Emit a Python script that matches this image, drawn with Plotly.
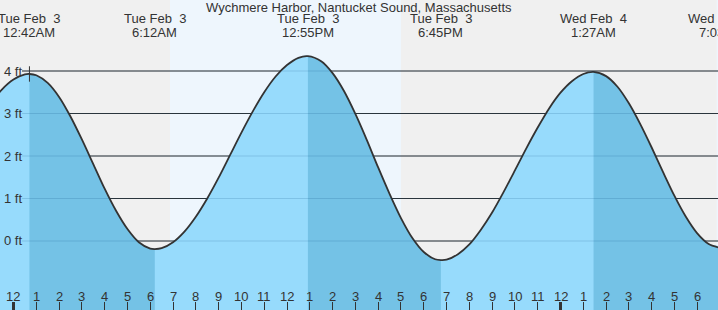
import plotly.graph_objects as go

# ---- data (hours since Tue Feb 3 00:00, feet) ----
times = [-1.0, -0.5, 0.0, 0.5, 0.7, 1.0, 1.5, 2.0, 2.5, 3.0, 3.5, 4.0, 4.5, 5.0, 5.5, 6.0, 6.2,
         6.5, 7.0, 7.5, 8.0, 8.5, 9.0, 9.5, 10.0, 10.5, 11.0, 11.5, 12.0, 12.5, 12.917,
         13.5, 14.0, 14.5, 15.0, 15.5, 16.0, 16.5, 17.0, 17.5, 18.0, 18.5, 18.75,
         19.0, 19.5, 20.0, 20.5, 21.0, 21.5, 22.0, 22.5, 23.0, 23.5, 24.0, 24.5, 25.0, 25.45,
         26.0, 26.5, 27.0, 27.5, 28.0, 28.5, 29.0, 29.5, 30.0, 30.5, 31.05]
heights = [3.23, 3.57, 3.80, 3.92, 3.93, 3.90, 3.72, 3.39, 2.93, 2.39, 1.81, 1.23, 0.71, 0.28, -0.03, -0.18, -0.19,
           -0.17, -0.03, 0.22, 0.57, 1.00, 1.49, 2.02, 2.55, 3.05, 3.50, 3.87, 4.14, 4.31, 4.35,
           4.23, 3.95, 3.53, 2.99, 2.38, 1.73, 1.11, 0.54, 0.07, -0.26, -0.43, -0.45,
           -0.44, -0.31, -0.08, 0.26, 0.67, 1.15, 1.66, 2.18, 2.67, 3.12, 3.49, 3.76, 3.93, 3.98,
           3.88, 3.63, 3.24, 2.75, 2.20, 1.62, 1.06, 0.57, 0.18, -0.07, -0.17]

# high / low events
event_times = [0.7, 6.2, 12.917, 18.75, 25.45, 31.05]
event_days = ["Tue Feb  3", "Tue Feb  3", "Tue Feb  3", "Tue Feb  3", "Wed Feb  4", "Wed Feb  4"]
event_clock = ["12:42AM", "6:12AM", "12:55PM", "6:45PM", "1:27AM", "7:03AM"]

# daylight (sunrise, sunset)
daylight = [(6.867, 17.0), (30.85, 41.0)]

# axes
hour_ticks = list(range(0, 31))
hour_labels = ["12", "1", "2", "3", "4", "5", "6", "7", "8", "9", "10", "11",
               "12", "1", "2", "3", "4", "5", "6", "7", "8", "9", "10", "11",
               "12", "1", "2", "3", "4", "5", "6"]
midnights = [0, 24]
ft_ticks = [0, 1, 2, 3, 4]
ft_labels = ["0 ft", "1 ft", "2 ft", "3 ft", "4 ft"]

title = "Wychmere Harbor, Nantucket Sound, Massachusetts"

# ---- styling ----
W, H = 718, 310
XR = [-0.592, 30.91]
YR = [-1.624, 5.671]
BG = "#f0f0f0"
DAY = "#eef6fd"
LIGHT = "#97dbfc"
DARK = "#74c2e6"
INK = "#333333"
FONT = "Liberation Sans"

fig = go.Figure()

# fill segments between successive events
bounds = [times[0]] + event_times
for i in range(len(bounds) - 1):
    a, b = bounds[i], bounds[i + 1]
    seg = [(t, h) for t, h in zip(times, heights) if a <= t <= b]
    xs = [p[0] for p in seg]
    ys = [p[1] for p in seg]
    xs = xs + [xs[-1], xs[0]]
    ys = ys + [YR[0] - 2, YR[0] - 2]
    color = LIGHT if i % 2 == 0 else DARK
    fig.add_trace(go.Scatter(x=xs, y=ys, fill="toself", fillcolor=color, mode="lines",
                             line=dict(width=0, color=color, shape="spline", smoothing=0.8),
                             hoverinfo="skip", showlegend=False))

# tide curve
fig.add_trace(go.Scatter(x=times, y=heights, mode="lines",
                         line=dict(color=INK, width=1.8, shape="spline", smoothing=0.8),
                         hoverinfo="skip", showlegend=False))

# marker at first high
fig.add_trace(go.Scatter(x=[event_times[0]], y=[heights[times.index(event_times[0])]], mode="markers",
                         marker=dict(symbol="line-ns", size=11, line=dict(color=INK, width=1)),
                         hoverinfo="skip", showlegend=False))

shapes = []
for sr, ss in daylight:
    shapes.append(dict(type="rect", xref="x", yref="paper", x0=sr, x1=ss, y0=0, y1=1,
                       fillcolor=DAY, line=dict(width=0), layer="below"))
x_start = 22 / W
for v in ft_ticks:
    shapes.append(dict(type="line", xref="paper", yref="y", x0=x_start, x1=1, y0=v, y1=v,
                       line=dict(color=INK, width=1.2), layer="below"))
for v in ft_ticks:
    shapes.append(dict(type="line", xref="paper", yref="y", x0=x_start, x1=1, y0=v, y1=v,
                       line=dict(color="rgba(0,70,120,0.16)", width=1.2), layer="above"))
for m in midnights:
    shapes.append(dict(type="line", xref="x", yref="paper", x0=m, x1=m, y0=0, y1=8 / H,
                       line=dict(color=INK, width=3), layer="above"))

ann = []
fnt = dict(family=FONT, size=13, color=INK)
ann.append(dict(text=title, xref="paper", yref="paper", x=0.5, y=1 - 7 / H,
                xanchor="center", yanchor="middle", showarrow=False, font=fnt))
for t, d, c in zip(event_times, event_days, event_clock):
    fx = (t - XR[0]) / (XR[1] - XR[0])
    ann.append(dict(text=d, xref="paper", yref="paper", x=fx, y=1 - 19 / H,
                    xanchor="center", yanchor="middle", showarrow=False, font=fnt))
    ann.append(dict(text=c, xref="paper", yref="paper", x=fx, y=1 - 32 / H,
                    xanchor="center", yanchor="middle", showarrow=False, font=fnt))
for v, lab in zip(ft_ticks, ft_labels):
    ann.append(dict(text=lab, xref="paper", yref="y", x=2 / W, y=v,
                    xanchor="left", yanchor="middle", showarrow=False, font=fnt))
for t, lab in zip(hour_ticks, hour_labels):
    ann.append(dict(text=lab, xref="x", yref="paper", x=t, y=14 / H,
                    xanchor="center", yanchor="middle", showarrow=False, font=fnt))

fig.update_layout(
    width=W, height=H, margin=dict(l=0, r=0, t=0, b=0),
    paper_bgcolor=BG, plot_bgcolor=BG,
    shapes=shapes, annotations=ann, showlegend=False,
    xaxis=dict(range=XR, showgrid=False, zeroline=False, showline=False,
               ticks="inside", ticklen=8, tickwidth=1, tickcolor=INK,
               tickvals=hour_ticks, showticklabels=False, fixedrange=True),
    yaxis=dict(range=YR, showgrid=False, zeroline=False, showline=False,
               showticklabels=False, ticks="", fixedrange=True),
)

fig.write_html("out.html")
